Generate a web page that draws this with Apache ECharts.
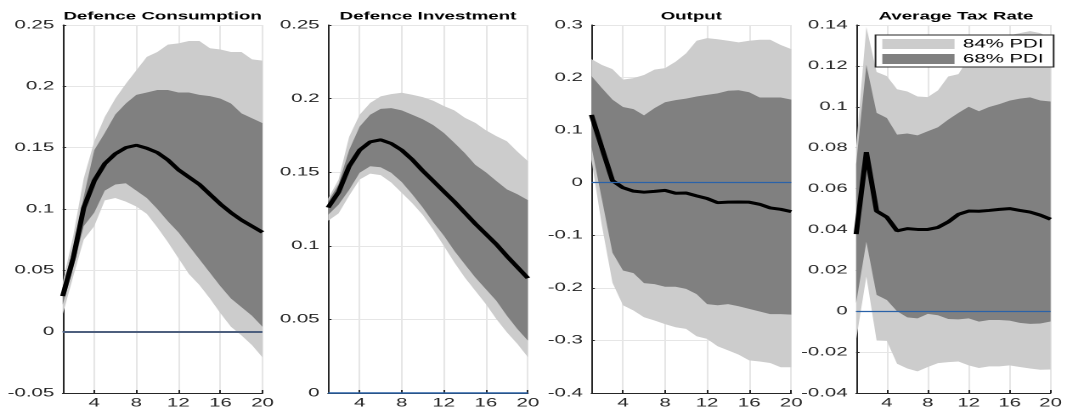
<!DOCTYPE html>
<html>
<head>
<meta charset="utf-8">
<script src="https://cdn.jsdelivr.net/npm/echarts@6/dist/echarts.min.js"></script>
<style>
  html, body { margin: 0; padding: 0; background: #fff; overflow: hidden; }
  #wrap { width: 1067px; height: 409px; overflow: hidden; }
  /* the figure is laid out narrow and stretched horizontally */
  #chart { width: 628px; height: 409px; transform: scaleX(1.699); transform-origin: 0 0; }
</style>
</head>
<body>
<div id="wrap"><div id="chart"></div></div>
<script>
// Impulse responses over 20 quarters: posterior median with 68% and 84% bands
const periods = ['1','2','3','4','5','6','7','8','9','10','11','12','13','14','15','16','17','18','19','20'];
const xTickLabels = ['4', '8', '12', '16', '20'];

const panelTitles = ['Defence Consumption', 'Defence Investment', 'Output', 'Average Tax Rate'];
const yMin  = [-0.05, 0,    -0.4, -0.04];
const yMax  = [ 0.25, 0.25,  0.3,  0.14];
const yStep = [ 0.05, 0.05,  0.1,  0.02];

// Defence Consumption
const consMedian = [0.029,0.060,0.101,0.123,0.137,0.145,0.150,0.152,0.1495,0.146,0.140,0.132,0.126,0.120,0.112,0.104,0.097,0.091,0.086,0.081];
const consHi68   = [0.036,0.068,0.110,0.148,0.162,0.177,0.186,0.193,0.195,0.197,0.197,0.195,0.195,0.193,0.192,0.190,0.186,0.178,0.174,0.170];
const consLo68   = [0.022,0.052,0.086,0.097,0.115,0.120,0.121,0.115,0.109,0.100,0.090,0.081,0.070,0.059,0.048,0.037,0.027,0.020,0.013,0.004];
const consHi84   = [0.040,0.078,0.125,0.155,0.175,0.190,0.202,0.213,0.224,0.228,0.234,0.235,0.237,0.237,0.231,0.230,0.228,0.228,0.222,0.221];
const consLo84   = [0.014,0.045,0.075,0.086,0.107,0.109,0.106,0.102,0.096,0.085,0.073,0.060,0.047,0.038,0.027,0.015,0.004,-0.003,-0.011,-0.021];

// Defence Investment
const invMedian = [0.126,0.1365,0.154,0.165,0.1706,0.172,0.1695,0.165,0.1586,0.151,0.144,0.137,0.130,0.1225,0.115,0.108,0.101,0.093,0.0855,0.078];
const invHi68   = [0.130,0.142,0.165,0.181,0.189,0.193,0.1935,0.192,0.189,0.186,0.182,0.1767,0.170,0.163,0.155,0.150,0.144,0.1383,0.135,0.131];
const invLo68   = [0.121,0.128,0.138,0.1496,0.154,0.1534,0.1496,0.1433,0.135,0.126,0.116,0.107,0.0966,0.0875,0.0785,0.0706,0.0627,0.0526,0.0435,0.0356];
const invHi84   = [0.132,0.145,0.174,0.189,0.197,0.2015,0.203,0.204,0.2026,0.201,0.1985,0.195,0.192,0.187,0.1835,0.1785,0.1745,0.171,0.164,0.1575];
const invLo84   = [0.117,0.122,0.134,0.145,0.149,0.148,0.143,0.136,0.129,0.121,0.111,0.100,0.0887,0.0785,0.0695,0.0605,0.0503,0.0413,0.0334,0.0244];

// Output
const outMedian = [0.129,0.066,0.004,-0.0095,-0.016,-0.018,-0.0165,-0.0146,-0.020,-0.0196,-0.025,-0.030,-0.038,-0.037,-0.0367,-0.037,-0.041,-0.048,-0.0506,-0.055];
const outHi68   = [0.203,0.180,0.158,0.144,0.140,0.128,0.142,0.153,0.157,0.160,0.164,0.167,0.170,0.175,0.176,0.172,0.162,0.162,0.162,0.158];
const outLo68   = [0.069,-0.032,-0.133,-0.167,-0.172,-0.191,-0.193,-0.198,-0.198,-0.202,-0.212,-0.231,-0.233,-0.231,-0.235,-0.240,-0.245,-0.250,-0.250,-0.251];
const outHi84   = [0.235,0.224,0.216,0.196,0.199,0.205,0.215,0.218,0.230,0.246,0.270,0.275,0.273,0.270,0.267,0.270,0.272,0.272,0.262,0.254];
const outLo84   = [0.044,-0.082,-0.190,-0.233,-0.243,-0.256,-0.262,-0.269,-0.275,-0.278,-0.292,-0.297,-0.311,-0.319,-0.327,-0.338,-0.340,-0.343,-0.351,-0.351];

// Average Tax Rate
const taxMedian = [0.0377,0.0778,0.049,0.046,0.0393,0.0404,0.040,0.040,0.041,0.0437,0.0474,0.049,0.0489,0.0493,0.0498,0.0502,0.0493,0.0485,0.047,0.045];
const taxHi68   = [0.072,0.1205,0.097,0.0945,0.0864,0.0869,0.086,0.088,0.090,0.0937,0.097,0.100,0.0978,0.0999,0.1013,0.103,0.104,0.1046,0.1031,0.1026];
const taxLo68   = [0.004,0.034,0.008,0.0055,0.000,-0.003,-0.0035,-0.0013,-0.002,-0.0038,-0.004,-0.0035,-0.0051,-0.0043,-0.0043,-0.0046,-0.0057,-0.0062,-0.006,-0.005];
const taxHi84   = [0.080,0.139,0.117,0.115,0.1086,0.1075,0.105,0.1047,0.108,0.1148,0.116,0.124,0.128,0.131,0.133,0.135,0.136,0.137,0.136,0.1335];
const taxLo84   = [-0.014,0.017,-0.0143,-0.0145,-0.0257,-0.028,-0.0294,-0.0273,-0.0254,-0.0249,-0.0246,-0.0265,-0.0278,-0.027,-0.027,-0.0265,-0.0273,-0.028,-0.0286,-0.0285];

const panels = [
  { median: consMedian, hi68: consHi68, lo68: consLo68, hi84: consHi84, lo84: consLo84 },
  { median: invMedian,  hi68: invHi68,  lo68: invLo68,  hi84: invHi84,  lo84: invLo84 },
  { median: outMedian,  hi68: outHi68,  lo68: outLo68,  hi84: outHi84,  lo84: outLo84 },
  { median: taxMedian,  hi68: taxHi68,  lo68: taxLo68,  hi84: taxHi84,  lo84: taxLo84 }
];

// layout (in the unstretched coordinate space)
const FONT = '"Liberation Sans", Arial, Helvetica, sans-serif';
const gridLeft = [36.9, 193.1, 348.1, 503.9];
const gridWidth = 117.6;
const gridTop = 25;
const gridHeight = 369;
const zeroLineStyle = [
  { color: '#4d5f7e', width: 2 },
  { color: '#2a62a8', width: 1.5 },
  { color: '#2a62a8', width: 1.3 },
  { color: '#2a62a8', width: 1.3 }
];
const BAND84 = '#cccccc';
const BAND68 = '#808080';

const isTick = (idx) => xTickLabels.indexOf(periods[idx]) >= 0;

function band(p, lo, hi, name, color, stackId) {
  return [
    {
      type: 'line', name: stackId + '-base', xAxisIndex: p, yAxisIndex: p,
      data: lo, stack: stackId, stackStrategy: 'all', symbol: 'none',
      lineStyle: { width: 0, opacity: 0 }, silent: true, z: 2
    },
    {
      type: 'line', name: name, xAxisIndex: p, yAxisIndex: p,
      data: hi.map((v, i) => +(v - lo[i]).toFixed(6)),
      stack: stackId, stackStrategy: 'all', symbol: 'none',
      lineStyle: { width: 0, opacity: 0 },
      areaStyle: { color: color, opacity: 1 },
      itemStyle: { color: color }, color: color,
      silent: true, z: 2
    }
  ];
}

const grid = [], xAxis = [], yAxis = [], title = [], series = [];

panels.forEach((pd, p) => {
  grid.push({ left: gridLeft[p], top: gridTop, width: gridWidth, height: gridHeight });
  title.push({
    text: panelTitles[p], left: gridLeft[p] + gridWidth / 2, top: 11, textAlign: 'center',
    padding: 0,
    textStyle: { fontFamily: FONT, fontSize: 11, fontWeight: 'bold', color: '#000' }
  });
  xAxis.push({
    type: 'category', gridIndex: p, data: periods, boundaryGap: false,
    axisLine: { show: true, onZero: false, lineStyle: { color: '#262626', width: 1 } },
    axisTick: { show: true, inside: true, length: 3, interval: (i) => isTick(i), lineStyle: { color: '#262626' } },
    axisLabel: {
      show: true, interval: (i) => isTick(i), margin: 4,
      fontFamily: FONT, fontSize: 12, color: '#262626'
    },
    splitLine: { show: true, interval: (i) => isTick(i), lineStyle: { color: '#e6e6e6', width: 1 } }
  });
  yAxis.push({
    type: 'value', gridIndex: p, min: yMin[p], max: yMax[p], interval: yStep[p],
    axisLine: { show: true, lineStyle: { color: '#262626', width: 1 } },
    axisTick: { show: true, inside: true, length: 2, lineStyle: { color: '#262626' } },
    axisLabel: { margin: 5, fontFamily: FONT, fontSize: 12, color: '#262626' },
    splitLine: { show: true, lineStyle: { color: '#e6e6e6', width: 1 } }
  });

  series.push(...band(p, pd.lo84, pd.hi84, '84% PDI', BAND84, 'b84-' + p));
  series.push(...band(p, pd.lo68, pd.hi68, '68% PDI', BAND68, 'b68-' + p));
  series.push({
    type: 'line', name: 'median-' + p, xAxisIndex: p, yAxisIndex: p,
    data: pd.median, symbol: 'none', silent: true, z: 4,
    lineStyle: { color: '#000', width: 3 },
    markLine: {
      silent: true, symbol: ['none', 'none'], label: { show: false },
      lineStyle: { type: 'solid', color: zeroLineStyle[p].color, width: zeroLineStyle[p].width },
      emphasis: { disabled: true },
      data: [{ yAxis: 0 }]
    }
  });
});

const chart = echarts.init(document.getElementById('chart'), null, { renderer: 'canvas', devicePixelRatio: 2 });
chart.setOption({
  animation: false,
  backgroundColor: '#fff',
  title: title,
  grid: grid,
  xAxis: xAxis,
  yAxis: yAxis,
  legend: {
    data: ['84% PDI', '68% PDI'],
    orient: 'vertical',
    left: 515.3, top: 35,
    icon: 'rect',
    itemWidth: 42.5, itemHeight: 10, itemGap: 3,
    padding: [3, 6, 2, 4],
    backgroundColor: '#fff',
    borderColor: '#262626', borderWidth: 1,
    selectedMode: false,
    lineStyle: { width: 0, opacity: 0 },
    textStyle: { fontFamily: FONT, fontSize: 12, color: '#000', lineHeight: 11 },
    z: 10
  },
  series: series
});
</script>
</body>
</html>
